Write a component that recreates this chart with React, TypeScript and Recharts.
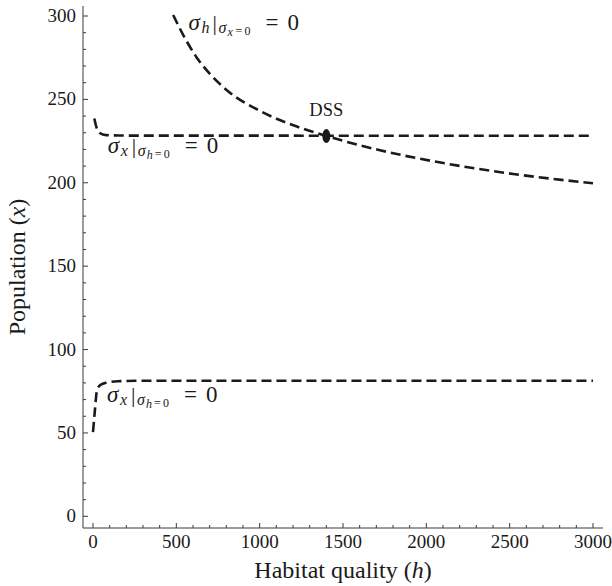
import React from 'react';
import { ComposedChart, Line, XAxis, YAxis, ReferenceDot } from 'recharts';

// sigma_h | sigma_x=0 = 0 nullcline (decreasing curve)
const sigmaHNullH = [481, 550, 623, 700, 803, 1003, 1202, 1402, 1722, 2121, 2521, 3000];
const sigmaHNullX = [300.6, 287, 275, 265.5, 255.5, 243, 234.5, 228, 219.5, 211.5, 205.3, 199.7];

// upper sigma_x | sigma_h=0 = 0 branch
const upperXNullH = [8, 20, 35, 50, 80, 200, 3000];
const upperXNullX = [238.5, 233.5, 230.5, 229.3, 228.6, 228.3, 228.2];

// lower sigma_x | sigma_h=0 = 0 branch
const lowerXNullH = [0, 10, 24, 44, 84, 150, 300, 3000];
const lowerXNullX = [50.5, 62, 75.5, 78.7, 80.2, 81, 81.3, 81.3];

// equilibrium point
const dssH = 1400;
const dssX = 228;

const xMajorTicks = [0, 500, 1000, 1500, 2000, 2500, 3000];
const yMajorTicks = [0, 50, 100, 150, 200, 250, 300];

const xTicks = Array.from({ length: 31 }, (_, i) => i * 100);
const yTicks = Array.from({ length: 31 }, (_, i) => i * 10);

const toRows = (hs: number[], xs: number[]) => hs.map((h, i) => ({ h, x: xs[i] }));

const INK = '#1a1a1a';
const AXIS = '#3a3a3a';
const serif = { fontFamily: 'Liberation Serif' };

const XTick = ({ x, y, payload }: any) => {
  const major = xMajorTicks.includes(payload.value);
  return (
    <g>
      <line x1={x} x2={x} y1={y} y2={y - (major ? 5 : 3)} stroke={AXIS} strokeWidth={1} />
      {major && (
        <text x={x} y={y + 20} textAnchor="middle" style={serif} fontSize={19} fill={INK}>
          {payload.value}
        </text>
      )}
    </g>
  );
};

const YTick = ({ x, y, payload }: any) => {
  const major = yMajorTicks.includes(payload.value);
  return (
    <g>
      <line x1={x} x2={x + (major ? 5 : 3)} y1={y} y2={y} stroke={AXIS} strokeWidth={1} />
      {major && (
        <text x={x - 7} y={y + 6} textAnchor="end" style={serif} fontSize={19} fill={INK}>
          {payload.value}
        </text>
      )}
    </g>
  );
};

const XTitle = ({ viewBox }: any) => {
  const cx = viewBox.x + viewBox.width / 2;
  return (
    <text x={cx} y={viewBox.y + 50} textAnchor="middle" style={serif} fontSize={24} fill={INK}>
      Habitat quality (<tspan fontStyle="italic">h</tspan>)
    </text>
  );
};

const YTitle = ({ viewBox }: any) => {
  const cy = viewBox.y + viewBox.height / 2;
  const cx = 25;
  return (
    <text
      x={cx}
      y={cy}
      textAnchor="middle"
      transform={`rotate(-90, ${cx}, ${cy})`}
      style={serif}
      fontSize={24}
      fill={INK}
    >
      Population (<tspan fontStyle="italic">x</tspan>)
    </text>
  );
};

// sigma_a |_{sigma_b = 0} = 0
const nullclineLabel = (a: string, b: string) => ({ cx, cy }: any) => (
  <text style={serif} fill={INK}>
    <tspan x={cx} y={cy} fontStyle="italic" fontSize={23}>σ</tspan>
    <tspan x={cx + 13} y={cy + 3} fontStyle="italic" fontSize={16}>{a}</tspan>
    <tspan x={cx + 24} y={cy} fontSize={22}>|</tspan>
    <tspan x={cx + 30} y={cy + 3} fontStyle="italic" fontSize={16}>σ</tspan>
    <tspan x={cx + 39} y={cy + 6} fontStyle="italic" fontSize={12}>{b}</tspan>
    <tspan x={cx + 47} y={cy + 5} fontSize={12}>=</tspan>
    <tspan x={cx + 56} y={cy + 5} fontSize={12}>0</tspan>
    <tspan x={cx + 77} y={cy} fontSize={23}>=</tspan>
    <tspan x={cx + 99} y={cy} fontSize={23}>0</tspan>
  </text>
);

const dssMarker = ({ cx, cy }: any) => (
  <g>
    <ellipse cx={cx} cy={cy} rx={4} ry={7} fill={INK} />
    <text x={cx} y={cy - 20} textAnchor="middle" style={serif} fontSize={18.5} fill={INK}>
      DSS
    </text>
  </g>
);

const dashed = {
  type: 'monotone' as const,
  dataKey: 'x',
  stroke: INK,
  strokeWidth: 2.6,
  strokeDasharray: '10 5',
  dot: false,
  activeDot: false,
  isAnimationActive: false,
};

export default function App() {
  return (
    <div style={{ position: 'absolute', left: 0, top: 0, width: 612, height: 586, background: '#fff' }}>
      <ComposedChart width={612} height={586} margin={{ top: 6, right: 9, bottom: 0, left: 0 }}>
        <XAxis
          type="number"
          dataKey="h"
          domain={[-60, 3060]}
          ticks={xTicks}
          interval={0}
          height={58}
          tickSize={0}
          tickMargin={0}
          tickLine={false}
          axisLine={{ stroke: AXIS, strokeWidth: 1 }}
          tick={<XTick />}
          allowDataOverflow
          label={{ content: <XTitle /> }}
        />
        <YAxis
          type="number"
          dataKey="x"
          domain={[-7, 306]}
          ticks={yTicks}
          interval={0}
          width={83}
          tickSize={0}
          tickMargin={0}
          tickLine={false}
          axisLine={{ stroke: AXIS, strokeWidth: 1 }}
          tick={<YTick />}
          allowDataOverflow
          label={{ content: <YTitle /> }}
        />
        <Line data={toRows(sigmaHNullH, sigmaHNullX)} {...dashed} />
        <Line data={toRows(upperXNullH, upperXNullX)} {...dashed} />
        <Line data={toRows(lowerXNullH, lowerXNullX)} {...dashed} />
        <ReferenceDot x={dssH} y={dssX} r={4} shape={dssMarker} />
        <ReferenceDot x={573} y={291.6} r={1} shape={nullclineLabel('h', 'x')} />
        <ReferenceDot x={88} y={217.7} r={1} shape={nullclineLabel('x', 'h')} />
        <ReferenceDot x={84} y={68.7} r={1} shape={nullclineLabel('x', 'h')} />
      </ComposedChart>
    </div>
  );
}
